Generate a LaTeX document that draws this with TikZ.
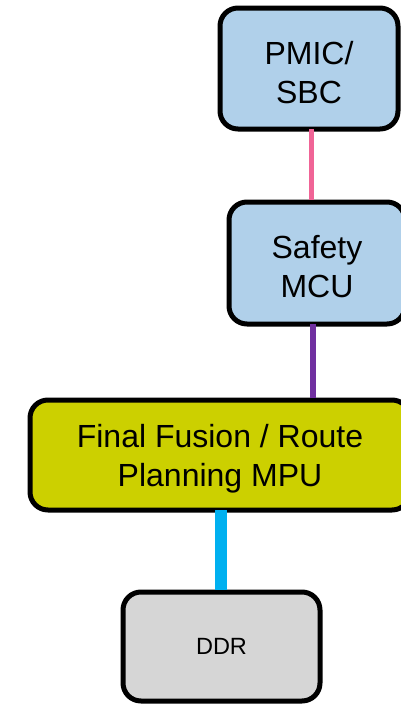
\documentclass[tikz,border=0pt]{standalone}
\usepackage{fontspec}
\setmainfont{Liberation Sans}
\definecolor{chipblue}{RGB}{176,208,234}
\definecolor{mpuolive}{RGB}{204,208,0}
\definecolor{ddrgray}{RGB}{214,214,214}
\definecolor{linkpink}{RGB}{240,100,150}
\definecolor{linkpurple}{RGB}{112,48,160}
\definecolor{linkcyan}{RGB}{0,176,240}
% a tall invisible strut that lowers two-line labels a little
\newcommand{\topstrut}{\rule{0pt}{31pt}}
\tikzset{
  x=1pt, y=-1pt,
  block/.style={draw=black, line width=5pt, rounded corners=18pt,
    align=center, inner sep=0pt, font=\fontsize{32}{39}\selectfont},
  link/.style={line width=#1, line cap=butt},
}
\begin{document}
\begin{tikzpicture}
\useasboundingbox (0,0) rectangle (401,707);
\clip (0,0) rectangle (401,707);

% blocks
\node[block, fill=chipblue, minimum width=178pt, minimum height=121pt]
  (pmic) at (309,68.5) {\topstrut PMIC/\\SBC};
\node[block, fill=chipblue, minimum width=176pt, minimum height=122pt]
  (safety) at (317,263) {\topstrut Safety\\MCU};
\node[block, fill=mpuolive, minimum width=380pt, minimum height=110pt]
  (mpu) at (220,455) {\topstrut Final Fusion / Route\\Planning MPU};
\node[block, fill=ddrgray, minimum width=197pt, minimum height=109pt,
  font=\fontsize{23.5}{28}\selectfont]
  (ddr) at (221.5,646.5) {DDR};

% links between blocks
\draw[link=5pt, draw=linkpink]
  ([xshift=2pt,yshift=2.5pt]pmic.south) -- ([xshift=2pt]pmic.south |- safety.north);
\draw[link=6pt, draw=linkpurple]
  ([xshift=-4pt,yshift=2.5pt]safety.south) -- ([xshift=-4pt]safety.south |- mpu.north);
\draw[link=12pt, draw=linkcyan]
  ([xshift=1pt,yshift=2.5pt]mpu.south) -- ([xshift=1pt]mpu.south |- ddr.north);
\end{tikzpicture}
\end{document}
